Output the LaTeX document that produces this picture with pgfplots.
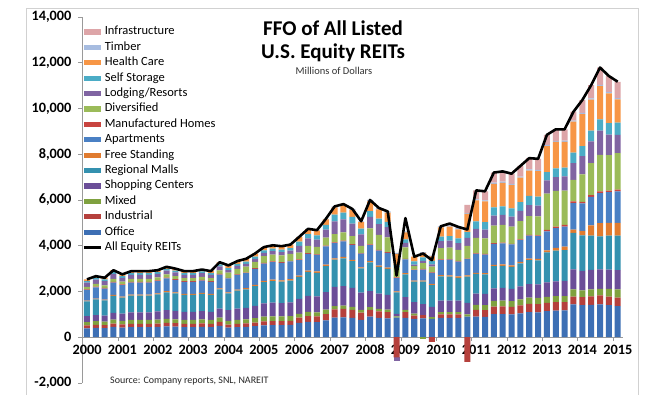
\documentclass[border=0pt]{standalone}
\usepackage{fontspec}
\setmainfont{Carlito}
\usepackage{pgfplots}
\usepackage{pgfplotstable}
\pgfplotsset{compat=1.18}
\definecolor{cOff}{HTML}{3D6FB4}
\definecolor{cInd}{HTML}{B5403C}
\definecolor{cMix}{HTML}{7FA13F}
\definecolor{cShop}{HTML}{6B4E98}
\definecolor{cMall}{HTML}{3491AF}
\definecolor{cFree}{HTML}{E07B2F}
\definecolor{cApt}{HTML}{4A80C4}
\definecolor{cMH}{HTML}{C8443F}
\definecolor{cDiv}{HTML}{9BBB59}
\definecolor{cLodg}{HTML}{8064A2}
\definecolor{cSS}{HTML}{4BACC6}
\definecolor{cHC}{HTML}{F79646}
\definecolor{cTim}{HTML}{A7BCE0}
\definecolor{cInf}{HTML}{DDA5A8}
\definecolor{axgray}{HTML}{9A9A9A}

\pgfplotstableread{
n Off Ind Mix Shop Mall Free Apt MH Div Lodg SS HC Tim Inf Tot
0 387 129 147 258 645 38 463 28 111 185 66 73 0 0 2530
1 409 136 155 272 681 40 489 29 117 195 69 77 0 0 2670
2 398 133 151 265 663 39 476 29 114 190 68 75 0 0 2600
3 448 149 170 299 747 44 536 32 129 214 76 85 0 0 2930
4 421 140 160 311 701 41 503 30 121 171 72 80 0 0 2750
5 442 147 168 325 737 43 529 32 127 181 75 84 0 0 2890
6 442 147 168 325 737 43 529 32 127 181 75 84 0 0 2890
7 442 147 168 325 737 43 529 32 127 181 75 84 0 0 2890
8 448 149 170 359 747 44 536 32 129 154 76 85 0 0 2930
9 471 157 179 374 785 46 564 34 136 165 80 89 0 0 3080
10 459 153 174 366 765 45 549 33 132 159 78 87 0 0 3000
11 442 147 168 355 737 43 529 32 127 151 75 84 0 0 2890
12 442 147 168 355 737 43 529 32 127 151 75 84 0 0 2890
13 453 151 172 362 755 44 542 33 130 156 77 86 0 0 2960
14 442 147 168 355 737 43 529 32 127 151 75 84 0 0 2890
15 502 167 190 395 836 49 600 36 144 179 85 95 0 0 3280
16 418 135 163 465 738 47 603 22 232 116 85 116 0 0 3140
17 443 143 173 493 783 50 639 23 246 123 90 123 0 0 3330
18 456 147 178 508 806 51 659 24 254 127 93 127 0 0 3430
19 487 157 190 542 860 55 703 26 271 135 99 135 0 0 3660
20 524 169 205 583 926 59 756 28 292 146 106 146 0 0 3940
21 535 173 209 595 945 60 772 28 297 149 109 149 0 0 4020
22 529 171 207 589 935 60 764 28 295 147 107 147 0 0 3980
23 539 174 211 599 952 61 778 28 300 150 109 150 0 0 4050
24 623 233 167 650 969 53 680 26 299 299 176 202 13 0 4390
25 673 251 180 702 1048 57 735 28 322 322 190 218 14 0 4740
26 665 248 178 693 1035 56 725 28 318 318 187 215 14 0 4680
27 734 274 196 765 1142 62 801 31 352 352 207 238 16 0 5170
28 860 360 140 840 1190 60 670 30 360 560 290 320 40 0 5720
29 873 367 140 856 1215 58 681 29 367 570 297 326 41 0 5820
30 842 353 135 825 1173 56 656 28 353 550 286 314 39 0 5610
31 761 319 122 745 1060 51 593 25 319 497 259 284 35 0 5070
32 900 300 120 700 1250 60 700 30 700 500 250 430 60 0 6000
33 848 283 113 661 1168 57 661 28 661 469 237 407 57 0 5650
34 825 275 110 644 1136 55 644 28 644 457 231 396 55 0 5500
35 857 0 60 100 945 40 580 30 436 0 100 500 40 0 2700
36 850 250 100 550 1000 50 600 30 500 200 150 300 50 0 5210
37 800 150 80 500 900 50 450 30 150 60 150 200 0 0 3520
38 820 150 0 480 980 50 480 30 250 100 150 200 30 0 3660
39 800 0 80 450 950 50 480 30 250 100 150 200 30 0 3370
40 850 150 100 500 1060 60 650 30 500 300 200 400 50 0 4850
41 850 150 100 500 1050 60 680 30 500 300 200 420 50 80 4970
42 850 150 100 500 1000 60 650 30 480 300 200 400 50 50 4820
43 900 0 100 500 1150 60 700 30 550 350 250 800 35 360 4710
44 899 295 225 488 860 51 822 26 681 392 327 912 45 398 6420
45 893 293 223 485 855 51 817 26 676 389 325 906 45 396 6380
46 1008 331 252 547 966 58 922 29 763 439 367 1022 50 446 7200
47 1015 334 254 551 969 58 928 29 769 442 370 1030 51 450 7250
48 1000 330 250 540 960 60 915 30 755 436 363 1016 50 445 7150
49 1048 346 262 566 1006 63 959 31 791 457 380 1064 52 466 7490
50 1095 361 274 591 1051 66 1002 33 827 477 398 1113 55 487 7830
51 1091 360 273 589 1047 65 998 33 824 476 396 1108 55 485 7800
52 1140 363 260 640 1307 87 828 73 1582 580 363 1133 50 444 8850
53 1160 370 265 650 1340 120 860 73 1560 600 380 1160 50 502 9090
54 1180 360 260 660 1350 150 880 73 1500 620 380 1130 50 497 9090
55 1438 334 320 871 1597 145 1162 73 944 726 465 1350 50 386 9860
56 1400 350 300 850 1550 200 1200 73 1200 800 430 1400 60 557 10370
57 1420 370 300 850 1500 450 1250 73 1400 950 470 1350 60 577 11020
58 1438 392 290 842 1452 580 1307 73 1597 1060 494 1452 60 753 11790
59 1400 380 330 850 1480 560 1340 73 1550 900 500 1300 60 697 11420
60 1365 363 363 842 1510 552 1380 73 1597 799 537 1016 60 710 11170
}\data

\pgfplotstableread{
n IndN MixN LodgN
35 -880 0 -145
38 0 -60 0
39 -200 0 0
43 -1075 0 0
}\negdata

\pgfplotsset{
  common/.style={at={(82pt,12pt)}, anchor=south west, scale only axis,
    width=541pt, height=366pt, xmin=-0.56, xmax=60.6, ymin=-2000, ymax=14000,
    enlargelimits=false, scaled y ticks=false, scaled x ticks=false},
  bl/.style={fill=#1, draw=none,
    legend image code/.code={\fill[fill=#1] (0pt,-2.6pt) rectangle (17pt,2.6pt);}}
}

\begin{document}
\begin{tikzpicture}[x=1pt,y=1pt]
\useasboundingbox (0,0) rectangle (660,395);
\fill[white] (0,0) rectangle (660,395);
\draw[black!18, line width=0.8pt] (26,-2) -- (26,387) -- (638,387) -- (638,-2);

\begin{axis}[common, ybar stacked, bar width=0.68,
  axis x line*=middle, axis y line*=left,
  axis line style={draw=axgray, line width=0.8pt},
  xtick={-0.5,3.5,...,59.5},
  xticklabels={2000,2001,2002,2003,2004,2005,2006,2007,2008,2009,2010,2011,2012,2013,2014,2015},
  ytick={-2000,0,2000,4000,6000,8000,10000,12000,14000},
  yticklabels={{-2,000},{0},{2,000},{4,000},{6,000},{8,000},{10,000},{12,000},{14,000}},
  tick align=outside, major tick length=4pt,
  tick style={draw=axgray, line width=0.8pt},
  ticklabel style={font=\bfseries\fontsize{14.3}{14.3}\selectfont, text=black},
  xticklabel style={xshift=4.5pt},
  yticklabel style={xshift=-3pt},
  reverse legend, legend cell align=left,
  legend style={at={(0,0.976)}, anchor=north west, draw=none, fill=none,
    inner sep=0pt, font=\fontsize{12.5}{12.5}\selectfont, row sep=3.4pt,
    nodes={inner sep=0pt, text height=9pt, text depth=3pt},
    /tikz/every odd column/.append style={column sep=3pt}},
]
\addlegendimage{legend image code/.code={\draw[black, line width=2.6pt] (0pt,0pt) -- (17pt,0pt);}}
\addlegendentry{All Equity REITs}
\addplot[bl=cOff] table[x=n,y=Off]{\data}; \addlegendentry{Office}
\addplot[bl=cInd] table[x=n,y=Ind]{\data}; \addlegendentry{Industrial}
\addplot[bl=cMix] table[x=n,y=Mix]{\data}; \addlegendentry{Mixed}
\addplot[bl=cShop] table[x=n,y=Shop]{\data}; \addlegendentry{Shopping Centers}
\addplot[bl=cMall] table[x=n,y=Mall]{\data}; \addlegendentry{Regional Malls}
\addplot[bl=cFree] table[x=n,y=Free]{\data}; \addlegendentry{Free Standing}
\addplot[bl=cApt] table[x=n,y=Apt]{\data}; \addlegendentry{Apartments}
\addplot[bl=cMH] table[x=n,y=MH]{\data}; \addlegendentry{Manufactured Homes}
\addplot[bl=cDiv] table[x=n,y=Div]{\data}; \addlegendentry{Diversified}
\addplot[bl=cLodg] table[x=n,y=Lodg]{\data}; \addlegendentry{Lodging/Resorts}
\addplot[bl=cSS] table[x=n,y=SS]{\data}; \addlegendentry{Self Storage}
\addplot[bl=cHC] table[x=n,y=HC]{\data}; \addlegendentry{Health Care}
\addplot[bl=cTim] table[x=n,y=Tim]{\data}; \addlegendentry{Timber}
\addplot[bl=cInf] table[x=n,y=Inf]{\data}; \addlegendentry{Infrastructure}
\end{axis}

\begin{axis}[common, ybar stacked, bar width=0.68, hide axis]
\addplot[fill=cInd, draw=none] table[x=n,y=IndN]{\negdata};
\addplot[fill=cMix, draw=none] table[x=n,y=MixN]{\negdata};
\addplot[fill=cLodg, draw=none] table[x=n,y=LodgN]{\negdata};
\end{axis}

\begin{axis}[common, hide axis]
\addplot[black, line width=2.6pt, line join=round, mark=none] table[x=n,y=Tot]{\data};
\end{axis}

\node[font=\bfseries\fontsize{21}{21}\selectfont, anchor=base, inner sep=0pt] at (333,359.5) {FFO of All Listed};
\node[font=\bfseries\fontsize{21}{21}\selectfont, anchor=base, inner sep=0pt] at (333,336) {U.S. Equity REITs};
\node[font=\fontsize{10.5}{10.5}\selectfont, anchor=base, inner sep=0pt, text=black!80] at (334,320.5) {Millions of Dollars};
\node[font=\fontsize{10}{10}\selectfont, anchor=base west, inner sep=0pt, text=black!85] at (110,11) {Source: Company reports, SNL, NAREIT};
\end{tikzpicture}
\end{document}
